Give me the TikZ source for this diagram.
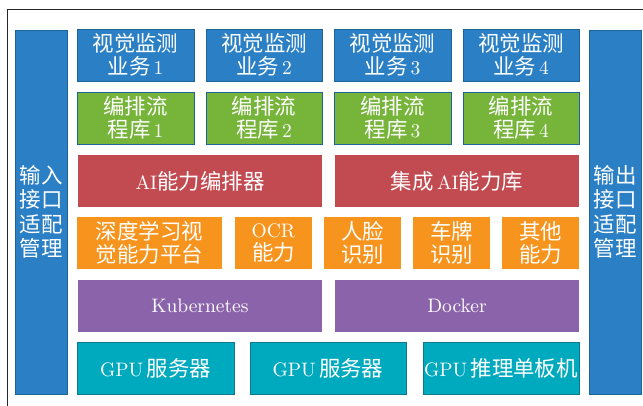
\documentclass[tikz,border=0pt]{standalone}
\usepackage{fontspec}
\setmainfont{lmroman10-regular}[Extension=.otf]
\newfontfamily\cjk[Scale=1.1]{Noto Sans CJK SC}
\newcommand{\C}[1]{{\cjk #1}}
\definecolor{cblue}{RGB}{43,128,197}
\definecolor{cblueb}{RGB}{30,100,150}
\definecolor{cgreen}{RGB}{118,180,58}
\definecolor{cred}{RGB}{194,75,82}
\definecolor{corange}{RGB}{247,148,30}
\definecolor{cpurple}{RGB}{139,99,170}
\definecolor{cteal}{RGB}{0,170,190}
\definecolor{ctealb}{RGB}{15,120,140}
\tikzset{
  bx/.style={inner sep=0pt, align=center, text=white, minimum height=52pt,
    font=\fontsize{19.5}{23.5}\selectfont},
  bluebox/.style={bx, fill=cblue, draw=cblueb, line width=0.8pt},
  greenbox/.style={bx, fill=cgreen, draw=cblueb, line width=0.8pt},
  redbox/.style={bx, fill=cred},
  orangebox/.style={bx, fill=corange},
  purplebox/.style={bx, fill=cpurple},
  tealbox/.style={bx, fill=cteal, draw=ctealb, line width=0.8pt},
  sidebox/.style={bx, fill=cblue, draw=cblueb, line width=0.8pt, minimum width=52pt, minimum height=364pt, font=\fontsize{19.5}{24.5}\selectfont},
  frameline/.style={draw=black!85, line width=0.9pt}
}
\begin{document}
\begin{tikzpicture}[x=1pt,y=-1pt]
\useasboundingbox (0,0) rectangle (643,406);
\coordinate (ftr) at (643,9);
\coordinate (ftl) at (7,9);
\coordinate (fbl) at (7,406);
\draw[frameline] (ftr) -- (ftl) -- (fbl);
% side columns
\node[sidebox] (lin) at (41,212) {\C{输入}\\\C{接口}\\\C{适配}\\\C{管理}};
\node[sidebox] (rout) at (615,212) {\C{输出}\\\C{接口}\\\C{适配}\\\C{管理}};
% row 1
\node[bluebox, minimum width=117pt] (v1) at (135.5,55) {\C{视觉监测}\\\C{业务}\,1};
\node[bluebox, minimum width=116pt] (v2) at (264,55) {\C{视觉监测}\\\C{业务}\,2};
\node[bluebox, minimum width=117pt] (v3) at (392.5,55) {\C{视觉监测}\\\C{业务}\,3};
\node[bluebox, minimum width=116pt] (v4) at (521,55) {\C{视觉监测}\\\C{业务}\,4};
% row 2
\node[greenbox, minimum width=117pt] (g1) at (135.5,118) {\C{编排流}\\\C{程库}\,1};
\node[greenbox, minimum width=116pt] (g2) at (264,118) {\C{编排流}\\\C{程库}\,2};
\node[greenbox, minimum width=117pt] (g3) at (392.5,118) {\C{编排流}\\\C{程库}\,3};
\node[greenbox, minimum width=116pt] (g4) at (521,118) {\C{编排流}\\\C{程库}\,4};
% row 3
\node[redbox, minimum width=244pt] (r1) at (200,181) {AI\C{能力编排器}};
\node[redbox, minimum width=244pt] (r2) at (457,181) {\C{集成}\,AI\C{能力库}};
% row 4
\node[orangebox, minimum width=145pt] (o1) at (149.5,243) {\C{深度学习视}\\\C{觉能力平台}};
\node[orangebox, minimum width=77pt] (o2) at (273.5,243) {OCR\\\C{能力}};
\node[orangebox, minimum width=77pt] (o3) at (362.5,243) {\C{人脸}\\\C{识别}};
\node[orangebox, minimum width=77pt] (o4) at (451.5,243) {\C{车牌}\\\C{识别}};
\node[orangebox, minimum width=77pt] (o5) at (540.5,243) {\C{其他}\\\C{能力}};
% row 5
\node[purplebox, minimum width=244pt] (p1) at (200,306) {Kubernetes};
\node[purplebox, minimum width=244pt] (p2) at (457,306) {Docker};
% row 6
\node[tealbox, minimum width=157pt] (t1) at (155.5,368) {GPU\,\C{服务器}};
\node[tealbox, minimum width=156pt] (t2) at (328,368) {GPU\,\C{服务器}};
\node[tealbox, minimum width=156pt] (t3) at (501,368) {GPU\,\C{推理单板机}};
\end{tikzpicture}
\end{document}
